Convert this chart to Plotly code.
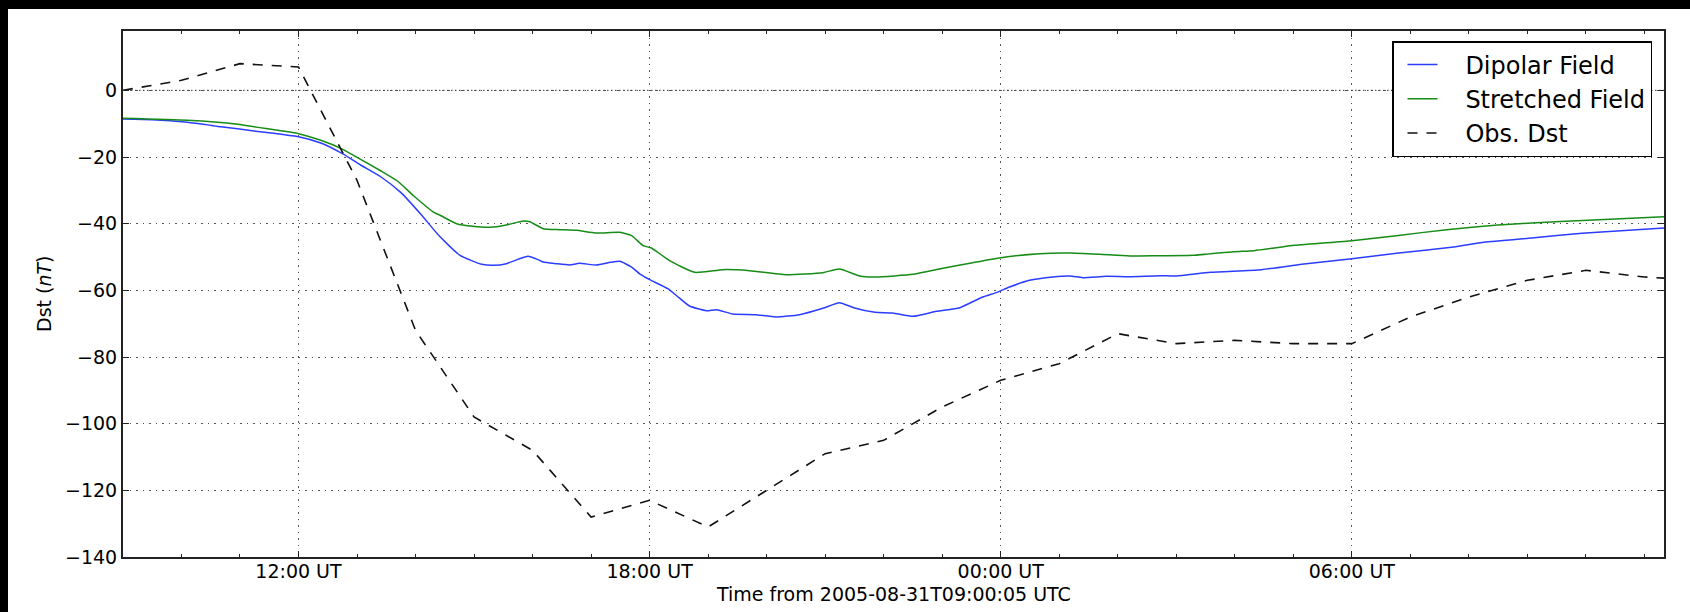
import pandas as pd
import plotly.graph_objects as go

# Model run starts at this instant; hourly Dst is stamped on whole hours.
RUN_START = pd.Timestamp("2005-08-31 09:00:05")
DST_START = pd.Timestamp("2005-08-31 09:00:00")
RUN_HOURS = 26.333

# Dipolar field model (hours since run start, nT)
dip_hours = [0.0, 0.5, 1.1, 1.67, 2.24, 3.0, 3.38, 3.75, 4.06, 4.41, 4.75, 5.09,
             5.41, 5.76, 6.13, 6.34, 6.55, 6.8, 6.92, 7.08, 7.18, 7.4, 7.63, 7.8,
             8.09, 8.33, 8.49, 8.68, 8.85, 9.0, 9.31, 9.5, 9.68, 9.97, 10.14, 10.42,
             10.8, 11.16, 11.56, 11.96, 12.24, 12.5, 12.85, 13.15, 13.5, 13.9, 14.3,
             14.69, 14.92, 15.15, 15.49, 15.89, 16.18, 16.4, 16.8, 17.2, 17.71, 18.0,
             18.58, 19.45, 20.14, 21.0, 21.76, 22.74, 23.26, 24.07, 24.93, 26.333]
dip_dst = [-8.6, -8.8, -9.6, -10.9, -12.2, -13.9, -15.8, -19.0, -22.4, -26.0, -30.7, -37.2,
           -43.8, -49.5, -52.2, -52.5, -52.0, -50.4, -49.8, -50.7, -51.5, -52.0, -52.4, -51.9,
           -52.4, -51.6, -51.3, -52.9, -55.3, -56.8, -59.5, -62.2, -64.7, -66.1, -65.8, -67.1,
           -67.3, -68.0, -67.3, -65.4, -63.7, -65.3, -66.6, -66.8, -67.8, -66.3, -65.2,
           -62.0, -60.7, -59.0, -57.0, -56.0, -55.7, -56.2, -55.8, -55.9, -55.6, -55.7,
           -54.6, -53.8, -52.2, -50.5, -48.9, -47.0, -45.6, -44.3, -42.9, -41.3]

# Stretched field model (hours since run start, nT)
str_hours = [0.0, 1.1, 1.96, 2.53, 3.0, 3.38, 3.72, 4.06, 4.41, 4.69, 4.97, 5.32,
             5.41, 5.7, 5.98, 6.27, 6.55, 6.84, 6.95, 7.18, 7.46, 7.75, 8.09, 8.49,
             8.69, 8.89, 9.03, 9.34, 9.77, 10.25, 10.71, 11.33, 11.96, 12.24, 12.61,
             12.87, 13.5, 13.95, 14.52, 15.0, 15.66, 16.18, 16.69, 17.2, 17.71, 18.29,
             18.98, 19.33, 20.02, 21.0, 21.76, 22.62, 23.49, 24.07, 25.22, 26.333]
str_dst = [-8.4, -9.0, -10.2, -11.7, -13.0, -15.0, -17.4, -20.7, -24.2, -27.2, -31.7, -36.7,
           -37.4, -40.0, -40.8, -41.1, -40.4, -39.2, -39.4, -41.5, -41.8, -42.0, -42.8, -42.6,
           -43.6, -46.6, -47.3, -51.1, -54.6, -53.8, -54.1, -55.3, -54.7, -53.6, -55.8,
           -56.0, -55.2, -53.6, -51.7, -50.2, -49.0, -48.8, -49.2, -49.7, -49.6, -49.5,
           -48.4, -48.1, -46.5, -45.1, -43.6, -41.8, -40.4, -39.8, -38.8, -37.9]

# Observed hourly Dst (hours since 09:00 UT, nT)
obs_hours = list(range(28))
obs_dst = [0, 3, 8, 7, -27, -72, -98, -108, -128, -123, -131, -120, -109, -105,
           -95, -87, -82, -73, -76, -75, -76, -76, -68, -62, -57, -54, -56, -57]

tick_times = ["2005-08-31 12:00", "2005-08-31 18:00", "2005-09-01 00:00", "2005-09-01 06:00"]
tick_labels = ["12:00 UT", "18:00 UT", "00:00 UT", "06:00 UT"]
y_ticks = [-140, -120, -100, -80, -60, -40, -20, 0]


def stamp(base, hours):
    return base + pd.to_timedelta(hours, unit="h")


FONT = "DejaVu Sans"
W, H = 1690, 612
ML, MR, MT, MB = 123, 26, 31, 55
PW, PH = W - ML - MR, H - MT - MB
GAP = "\u00a0\u00a0\u00a0"  # space between legend sample and label


def px_x(px):
    return (px - ML) / PW


def px_y(py):
    return (H - MB - py) / PH


fig = go.Figure()
fig.add_trace(go.Scatter(
    x=stamp(RUN_START, dip_hours), y=dip_dst, mode="lines", name=GAP + "Dipolar Field",
    line=dict(color="#2b3dff", width=1.5, shape="spline", smoothing=0.5),
    legendgroup="a"))
fig.add_trace(go.Scatter(
    x=stamp(RUN_START, str_hours), y=str_dst, mode="lines", name=GAP + "Stretched Field",
    line=dict(color="#168c16", width=1.5, shape="spline", smoothing=0.5),
    legendgroup="b"))
fig.add_trace(go.Scatter(
    x=stamp(DST_START, obs_hours), y=obs_dst, mode="lines", name=GAP + "Obs. Dst",
    line=dict(color="#111111", width=1.6, dash="10px,9px"),
    legendgroup="c"))

axis_common = dict(
    showline=True, linecolor="#222222", linewidth=2, mirror="ticks",
    ticks="inside", ticklen=6, tickwidth=1, tickcolor="#222222",
    showgrid=True, gridcolor="#555555", gridwidth=1, griddash="1.5px,5px",
    zeroline=False, tickfont=dict(family=FONT, size=19, color="black"),
)

fig.update_xaxes(
    type="date",
    range=[RUN_START, stamp(RUN_START, RUN_HOURS)],
    tickmode="array", tickvals=tick_times, ticktext=tick_labels,
    ticklabelstandoff=-4,
    minor=dict(dtick=3600000, tick0="2005-08-31 09:00", ticks="inside",
               ticklen=3, tickcolor="#222222", showgrid=False),
    **axis_common,
)
fig.update_yaxes(
    range=[-140, 17.8], tickmode="array", tickvals=y_ticks,
    ticktext=[f"\u2212{abs(v)}" if v < 0 else str(v) for v in y_ticks],
    **axis_common,
)

# denser dotted line on the zero level
fig.add_shape(type="line", xref="paper", x0=0, x1=1, yref="y", y0=0, y1=0,
              line=dict(color="#333333", width=1, dash="1.5px,2.5px"))

# black frame on the top and left edges of the canvas
fig.add_shape(type="rect", xref="paper", yref="paper", layer="above",
              x0=px_x(0), x1=px_x(W), y0=px_y(9), y1=px_y(0),
              fillcolor="black", line=dict(width=0))
fig.add_shape(type="rect", xref="paper", yref="paper", layer="above",
              x0=px_x(0), x1=px_x(8), y0=px_y(H), y1=px_y(0),
              fillcolor="black", line=dict(width=0))

fig.add_annotation(text="Dst (<i>nT</i>)", xref="paper", yref="paper",
                   x=px_x(44), y=0.5, textangle=-90, showarrow=False,
                   xanchor="center", yanchor="middle",
                   font=dict(family=FONT, size=19, color="black"))
fig.add_annotation(text="Time from 2005-08-31T09:00:05 UTC", xref="paper", yref="paper",
                   x=0.5, y=px_y(594), showarrow=False,
                   xanchor="center", yanchor="middle",
                   font=dict(family=FONT, size=19, color="black"))

fig.update_layout(
    width=W, height=H,
    margin=dict(l=ML, r=MR, t=MT, b=MB, pad=0),
    paper_bgcolor="white", plot_bgcolor="white",
    font=dict(family=FONT, color="black"),
    legend=dict(
        x=px_x(1652), y=px_y(41), xanchor="right", yanchor="top",
        bgcolor="white", bordercolor="black", borderwidth=1.5,
        font=dict(family=FONT, size=24, color="black"),
        tracegroupgap=0, traceorder="grouped", itemwidth=30, indentation=9,
    ),
    showlegend=True,
)

fig.write_html("out.html")
